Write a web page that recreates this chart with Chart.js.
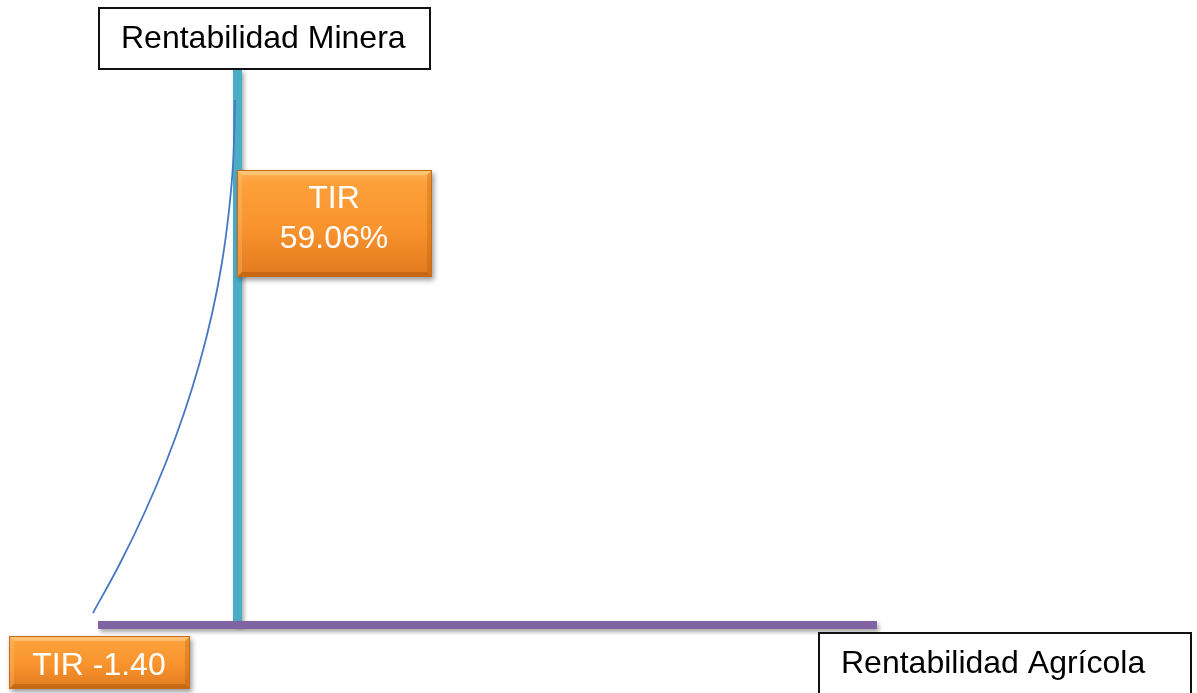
<!DOCTYPE html>
<html>
<head>
<meta charset="utf-8">
<script src="https://cdn.jsdelivr.net/npm/chart.js@4/dist/chart.umd.min.js"></script>
<style>
  html, body { margin: 0; padding: 0; background: #fff; }
  #wrap { position: relative; width: 1197px; height: 693px; overflow: hidden; }
</style>
</head>
<body>
<div id="wrap"><canvas id="chart"></canvas></div>
<script>
'use strict';

// curve of rentabilidad (origin = axes crossing, y up)
const curveX = [-144.5, -117.3, -93.1, -71.8, -53.4, -37.9, -25.3, -15.6, -8.8, -4.4, -2.5];
const curveY = [12, 62, 112, 162, 212, 262, 312, 362, 412, 462, 525];

// axis lines
const agricolaX = [-139.5, 639.5];
const agricolaY = [0, 0];
const mineraX = [0, 0];
const mineraY = [0, 556];

const labelMinera = 'Rentabilidad Minera';
const labelAgricola = 'Rentabilidad Agrícola';
const tirAlto = ['TIR', '59.06%'];
const tirBajo = 'TIR -1.40';

const FONT = '32px "Liberation Sans", Arial, sans-serif';

const COLORS = {
  curve: '#4677C4',
  agricola: '#8064A2',
  minera: '#4BACC6'
};

const toPts = (xs, ys) => xs.map((x, i) => ({ x, y: ys[i] }));

function whiteBox(ctx, x, y, w, h) {
  ctx.save();
  ctx.fillStyle = '#fff';
  ctx.fillRect(x, y, w, h);
  ctx.strokeStyle = '#111';
  ctx.lineWidth = 2;
  ctx.strokeRect(x, y, w, h);
  ctx.restore();
}

function orangeBox(ctx, x, y, w, h) {
  ctx.save();
  ctx.shadowColor = 'rgba(0,0,0,0.4)';
  ctx.shadowBlur = 5;
  ctx.shadowOffsetX = 2;
  ctx.shadowOffsetY = 3;
  const g = ctx.createLinearGradient(0, y, 0, y + h);
  g.addColorStop(0, '#FFB45A');
  g.addColorStop(0.12, '#FDA03A');
  g.addColorStop(0.55, '#F8932D');
  g.addColorStop(1, '#E07A1F');
  ctx.fillStyle = g;
  ctx.fillRect(x, y, w, h);
  ctx.restore();
  // bevel
  const b = 5;
  ctx.save();
  ctx.fillStyle = 'rgba(255,220,160,0.45)';
  ctx.beginPath();
  ctx.moveTo(x, y); ctx.lineTo(x + w, y); ctx.lineTo(x + w - b, y + b); ctx.lineTo(x + b, y + b);
  ctx.closePath(); ctx.fill();
  ctx.fillStyle = 'rgba(255,200,130,0.3)';
  ctx.beginPath();
  ctx.moveTo(x, y); ctx.lineTo(x + b, y + b); ctx.lineTo(x + b, y + h - b); ctx.lineTo(x, y + h);
  ctx.closePath(); ctx.fill();
  ctx.fillStyle = 'rgba(150,70,0,0.35)';
  ctx.beginPath();
  ctx.moveTo(x, y + h); ctx.lineTo(x + b, y + h - b); ctx.lineTo(x + w - b, y + h - b); ctx.lineTo(x + w, y + h);
  ctx.closePath(); ctx.fill();
  ctx.fillStyle = 'rgba(160,80,0,0.25)';
  ctx.beginPath();
  ctx.moveTo(x + w, y); ctx.lineTo(x + w, y + h); ctx.lineTo(x + w - b, y + h - b); ctx.lineTo(x + w - b, y + b);
  ctx.closePath(); ctx.fill();
  ctx.strokeStyle = '#C96A17';
  ctx.lineWidth = 1;
  ctx.strokeRect(x + 0.5, y + 0.5, w - 1, h - 1);
  ctx.restore();
}

const lineShadow = {
  id: 'lineShadow',
  beforeDatasetDraw(chart, args) {
    const ctx = chart.ctx;
    ctx.save();
    if (args.index !== 0) {
      ctx.shadowColor = 'rgba(0,0,0,0.35)';
      ctx.shadowBlur = 4;
      ctx.shadowOffsetX = 2;
      ctx.shadowOffsetY = 3;
    }
  },
  afterDatasetDraw(chart) {
    chart.ctx.restore();
  }
};

const labels = {
  id: 'labels',
  afterDraw(chart) {
    const ctx = chart.ctx;
    ctx.save();
    ctx.font = FONT;
    ctx.textBaseline = 'alphabetic';

    whiteBox(ctx, 99, 8, 331, 61);
    ctx.fillStyle = '#000';
    ctx.textAlign = 'left';
    ctx.fillText(labelMinera, 121, 48);

    whiteBox(ctx, 819, 633, 372, 80);
    ctx.fillStyle = '#000';
    ctx.fillText(labelAgricola, 841, 673);

    orangeBox(ctx, 237, 170, 195, 107);
    ctx.fillStyle = '#fff';
    ctx.textAlign = 'center';
    ctx.fillText(tirAlto[0], 334, 208);
    ctx.fillText(tirAlto[1], 334, 248);

    orangeBox(ctx, 9, 636, 181, 53);
    ctx.fillStyle = '#fff';
    ctx.fillText(tirBajo, 99, 675);
    ctx.restore();
  }
};

new Chart(document.getElementById('chart'), {
  type: 'scatter',
  data: {
    datasets: [
      {
        data: toPts(curveX, curveY),
        showLine: true,
        borderColor: COLORS.curve,
        borderWidth: 1.8,
        pointRadius: 0,
        tension: 0.4,
        order: 0
      },
      {
        data: toPts(agricolaX, agricolaY),
        showLine: true,
        borderColor: COLORS.agricola,
        borderWidth: 8,
        borderCapStyle: 'butt',
        pointRadius: 0,
        order: 1
      },
      {
        data: toPts(mineraX, mineraY),
        showLine: true,
        borderColor: COLORS.minera,
        borderWidth: 9,
        borderCapStyle: 'butt',
        pointRadius: 0,
        order: 2
      }
    ]
  },
  options: {
    responsive: true,
    maintainAspectRatio: false,
    animation: false,
    layout: { padding: 0 },
    plugins: { legend: { display: false }, tooltip: { enabled: false } },
    scales: {
      x: { type: 'linear', min: -237.5, max: 959.5, display: false },
      y: { type: 'linear', min: -68, max: 625, display: false }
    }
  },
  plugins: [lineShadow, labels]
});
</script>
</body>
</html>
